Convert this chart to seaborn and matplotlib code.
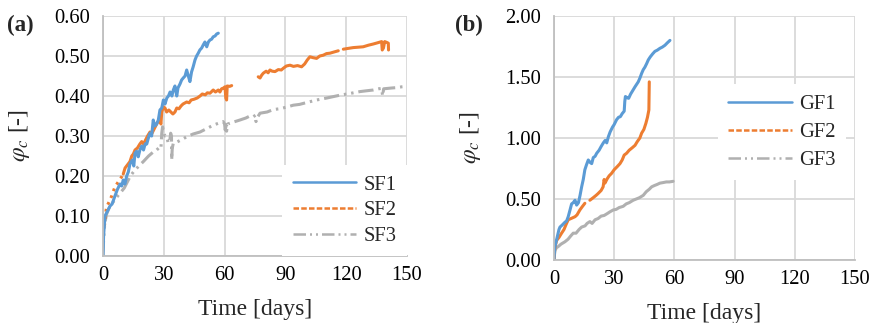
import numpy as np
import pandas as pd
import matplotlib
matplotlib.use("Agg")
import matplotlib.pyplot as plt
import seaborn as sns
from matplotlib.lines import Line2D

# ---- data (time in days, phi_c) ----
# NaN marks a gap in the record
sf1_t = [0, 0.3, 0.7, 1.0, 2.0, 3.5, 4.5, 5.9, 7.0, 8.4, 9.2, 10.0, 10.8, 11.7, 12.5, 13.3, 14.5, 15.2,
         15.8, 16.6, 17.4, 18.2, 19.1, 20.0, 20.8, 21.6, 22.4, 23.2, 24.0, 24.8, 25.6, 26.5, 27.3, 28.1,
         29.0, 29.8, 30.6, 31.5, 32.3, 33.1, 34.0, 34.7, 35.5, 36.4, 37.0, 38.0, 38.8, 39.6, 40.5, 41.3,
         42.1, 42.9, 43.7, 44.5, 45.4, 46.2, 47.0, 47.8, 48.7, 49.5, 50.3, 51.2, 52.0, 52.8, 53.6, 54.4,
         55.3, 56.1, 56.9]
sf1_v = [0, 0.05, 0.08, 0.10, 0.11, 0.125, 0.13, 0.15, 0.165, 0.18, 0.175, 0.19, 0.18, 0.20, 0.21, 0.23,
         0.24, 0.225, 0.257, 0.262, 0.248, 0.265, 0.275, 0.265, 0.28, 0.28, 0.295, 0.307, 0.30, 0.34, 0.325,
         0.33, 0.34, 0.365, 0.37, 0.39, 0.38, 0.395, 0.40, 0.41, 0.40, 0.415, 0.425, 0.40, 0.42, 0.43, 0.44,
         0.445, 0.45, 0.465, 0.45, 0.436, 0.46, 0.473, 0.49, 0.50, 0.507, 0.515, 0.52, 0.528, 0.535, 0.523,
         0.535, 0.54, 0.542, 0.548, 0.55, 0.555, 0.557]

sf2_t = [0, 0.1, 0.5, 1.0, 1.4, 1.8, 3.0, 4.3, 5.9, 7.5, 9.2, 10.0, 10.9, 12.1, 13.3, 14.2, 15.0, 15.8,
         17.0, 18.2, 19.1, 20.0, 21.0, 22.0, 23.2, 24.0, 25.0, 26.0, 27.0, 28.1, 28.6, 29.0, 29.8, 30.6,
         31.4, 32.5, 33.5, 34.5, 35.5, 36.4, 37.5, 38.5, 39.5, 41.3, 42.5, 43.5, 45.0, 46.5, 47.9, 49.0,
         50.5, 51.5, 52.8, 54.4, 55.5, 56.9, 57.7, 58.5, 59.5, 60.2, 60.6, 61.0, 61.3, 62.5, 63.5,
         np.nan,
         76.6, 77.5, 78.3, 79.1, 80.5, 81.5, 82.4, 83.5, 84.9, 86.5, 88.0, 88.9, 90.5, 92.3, 94.0, 96.0,
         98.0, 99.5, 100.8, 102.1, 103.5, 105.4, 107.0, 108.7, 110.3, 112.0, 114.0, 116.1,
         np.nan,
         118.6, 121.0, 123.5, 126.0, 128.4, 131.0, 133.4, 135.5, 137.5, 137.8, 138.4, 139.0, 140.0, 140.8,
         140.9]
sf2_v = [0.04, 0.07, 0.07, 0.085, 0.11, 0.123, 0.135, 0.15, 0.173, 0.185, 0.198, 0.205, 0.22, 0.228,
         0.236, 0.25, 0.255, 0.265, 0.27, 0.28, 0.286, 0.28, 0.29, 0.30, 0.31, 0.305, 0.315, 0.325, 0.335,
         0.336, 0.33, 0.36, 0.373, 0.37, 0.36, 0.365, 0.36, 0.355, 0.36, 0.37, 0.368, 0.375, 0.38, 0.385,
         0.383, 0.39, 0.392, 0.395, 0.40, 0.405, 0.403, 0.408, 0.407, 0.415, 0.41, 0.415, 0.41, 0.418,
         0.42, 0.423, 0.395, 0.39, 0.425, 0.424, 0.426,
         np.nan,
         0.448, 0.445, 0.452, 0.457, 0.462, 0.458, 0.465, 0.462, 0.461, 0.466, 0.465, 0.469, 0.475, 0.477,
         0.474, 0.476, 0.473, 0.48, 0.49, 0.498, 0.496, 0.494, 0.50, 0.502, 0.506, 0.507, 0.51, 0.513,
         np.nan,
         0.517, 0.519, 0.521, 0.522, 0.523, 0.527, 0.53, 0.533, 0.536, 0.515, 0.52, 0.536, 0.534, 0.532,
         0.515]
sf2_dotted_until = 10.0  # early part of SF2 shows up as sparse dots

sf3_t = [0, 0.3, 0.7, 1.0, 1.8, 3.0, 4.3, 6.0, 8.4, 10.5, 12.5, 13.5, 15.0, 17.5, 19.9, 22.5, 24.8, 26.5,
         28.1, 28.6, 29.0, 29.4, 29.9, 30.6, 31.4, 32.2, 33.0, 33.4, 33.8, 33.9, 34.2, 34.7, 36.5, 38.5,
         41.3, 44.5, 47.9, 51.0, 54.4, 57.0, 59.3, 60.0, 60.3, 60.8, 61.0, 61.5, 64.5, 67.6, 70.5, 72.5,
         74.1, 75.3, 75.5, 76.0, 77.5, 81.0, 84.0, 87.0, 90.5, 93.9, 97.0, 100.0, 105.4, 110.5, 116.9,
         121.5, 126.8, 130.0, 133.4, 136.0, 137.5, 138.0, 138.5, 140.5, 142.5, 145.0, 147.5, 150.0]
sf3_v = [0, 0.04, 0.07, 0.085, 0.105, 0.12, 0.13, 0.142, 0.157, 0.17, 0.19, 0.20, 0.21, 0.224, 0.236,
         0.25, 0.26, 0.265, 0.273, 0.27, 0.307, 0.323, 0.31, 0.30, 0.30, 0.282, 0.29, 0.307, 0.30, 0.24,
         0.27, 0.282, 0.285, 0.29, 0.298, 0.305, 0.31, 0.318, 0.327, 0.332, 0.336, 0.33, 0.315, 0.327,
         0.312, 0.33, 0.335, 0.34, 0.345, 0.35, 0.348, 0.352, 0.336, 0.345, 0.357, 0.36, 0.366, 0.368,
         0.372, 0.377, 0.379, 0.383, 0.39, 0.395, 0.402, 0.406, 0.411, 0.413, 0.415, 0.418, 0.419, 0.40,
         0.418, 0.419, 0.42, 0.421, 0.423, 0.424]

gf1_t = [0, 0.3, 0.5, 1.5, 2.5, 3.0, 4.0, 5.5, 6.3, 7.1, 8.0, 8.8, 9.6, 10.5, 11.3, 12.2, 13.0, 13.8,
         14.6, 15.4, 16.2, 17.1, 18.0, 18.8, 19.6, 20.5, 21.3, 22.5, 23.5, 24.6, 25.5, 26.3, 27.1, 28.0,
         29.2, 30.0, 31.2, 32.2, 33.1, 34.0, 35.0, 35.3, 35.6, 36.5, 37.2, 38.2, 39.3, 40.4, 41.2, 42.0,
         42.8, 43.7, 44.5, 45.3, 46.2, 47.0, 48.0, 49.2, 50.3, 51.5, 52.8, 54.0, 55.3, 56.5, 57.8]
gf1_v = [0, 0.08, 0.11, 0.18, 0.25, 0.27, 0.285, 0.31, 0.32, 0.355, 0.41, 0.46, 0.47, 0.49, 0.45, 0.47,
         0.53, 0.60, 0.66, 0.74, 0.78, 0.82, 0.80, 0.79, 0.84, 0.85, 0.875, 0.90, 0.93, 0.96, 0.98, 0.96,
         1.01, 1.05, 1.09, 1.11, 1.15, 1.17, 1.175, 1.20, 1.22, 1.30, 1.34, 1.33, 1.325, 1.36, 1.39, 1.42,
         1.44, 1.46, 1.49, 1.53, 1.56, 1.58, 1.61, 1.64, 1.665, 1.69, 1.71, 1.72, 1.735, 1.745, 1.76,
         1.78, 1.80]

gf2_t = [0, 0.3, 0.7, 1.3, 2.5, 3.8, 5.0, 6.0, 7.1, 8.5, 10.5, 11.5, 12.9, 14.0, 15.4,
         np.nan,
         17.9, 19.5, 21.0, 22.0, 23.5, 24.5, 25.0, 25.4, 26.5, 27.5, 28.7, 30.0, 31.5, 32.9, 34.0, 35.0,
         36.2, 37.5, 39.0, 40.4, 41.5, 42.8, 43.7, 44.8, 45.8, 46.6, 47.3, 47.5]
gf2_v = [0, 0.08, 0.12, 0.16, 0.185, 0.22, 0.25, 0.29, 0.33, 0.34, 0.355, 0.37, 0.41, 0.435, 0.465,
         np.nan,
         0.49, 0.51, 0.53, 0.545, 0.57, 0.60, 0.66, 0.63, 0.665, 0.69, 0.71, 0.74, 0.765, 0.79, 0.82,
         0.86, 0.875, 0.90, 0.92, 0.94, 0.97, 1.0, 1.04, 1.07, 1.12, 1.17, 1.23, 1.46]

gf3_t = [0, 0.3, 0.6, 1.2, 2.1, 3.5, 5.5, 7.0, 8.5, 9.6, 11.0, 12.5, 13.8, 15.5, 16.5, 17.9, 19.0, 20.5,
         22.0, 23.5, 25.0, 26.5, 27.9, 29.5, 31.0, 32.5, 34.5, 36.0, 37.5, 39.5, 41.0, 42.5, 44.5, 46.0,
         47.5, 48.7, 50.0, 51.5, 52.8, 54.5, 56.0, 57.5, 59.4]
gf3_v = [0, 0.05, 0.08, 0.10, 0.11, 0.13, 0.15, 0.17, 0.20, 0.22, 0.22, 0.25, 0.27, 0.28, 0.30, 0.315,
         0.30, 0.33, 0.34, 0.36, 0.365, 0.38, 0.395, 0.41, 0.415, 0.43, 0.44, 0.46, 0.47, 0.49, 0.50, 0.51,
         0.53, 0.56, 0.58, 0.60, 0.61, 0.62, 0.63, 0.635, 0.64, 0.64, 0.645]

BLUE, ORANGE, GRAY = "#5B9BD5", "#ED7D31", "#B0B0B0"
GRID = "#D9D9D9"
DASHDOT2 = (0, (5, 1.6, 0.8, 1.6, 0.8, 1.6))
LW = 2.2

sns.set_theme(style="whitegrid")
plt.rcParams["font.family"] = ["Liberation Serif", "DejaVu Serif"]
plt.rcParams["mathtext.fontset"] = "stix"


def draw(ax, t, v, **kw):
    # split on NaN gaps and draw each piece with seaborn
    df = pd.DataFrame({"t": t, "v": v})
    seg = df["t"].isna().cumsum()
    keep = df["t"].notna()
    for _, d in df[keep].groupby(seg[keep]):
        sns.lineplot(data=d, x="t", y="v", ax=ax, sort=False, estimator=None, **kw)


def style(ax, ymax, ystep):
    ax.set_xlim(0, 150)
    ax.set_ylim(0, ymax)
    ax.set_xticks(np.arange(0, 151, 30))
    yt = np.arange(0, ymax + 1e-9, ystep)
    ax.set_yticks(yt)
    ax.set_yticklabels([f"{y:.2f}" for y in yt])
    ax.grid(True, color=GRID, linewidth=1.3)
    ax.set_facecolor("white")
    for s in ["top", "right"]:
        ax.spines[s].set_visible(False)
    for s in ["left", "bottom"]:
        ax.spines[s].set_color("#BFBFBF")
        ax.spines[s].set_linewidth(1.3)
    ax.tick_params(length=0, labelsize=14.8, colors="black")
    ax.tick_params(axis="y", pad=9)
    ax.tick_params(axis="x", pad=7)
    ax.set_xlabel("Time [days]", fontsize=17, labelpad=10)
    ax.set_ylabel(r"$\varphi_c$ [-]", fontsize=17, labelpad=16)


fig = plt.figure(figsize=(8.75, 3.23), dpi=100)
ax1 = fig.add_axes([0.1177, 0.2074, 0.3474, 0.7431])
ax2 = fig.add_axes([0.6331, 0.195, 0.3440, 0.7555])

# panel (a)
draw(ax1, sf3_t, sf3_v, color=GRAY, linewidth=LW, linestyle=DASHDOT2)
t2 = np.array(sf2_t)
v2 = np.array(sf2_v)
dotted = t2 <= sf2_dotted_until
draw(ax1, t2[dotted], v2[dotted], color=ORANGE, linewidth=LW, linestyle=(0, (0.9, 1.5)))
solid = ~(t2 < sf2_dotted_until)  # keeps the NaN gap markers
draw(ax1, t2[solid], v2[solid], color=ORANGE, linewidth=LW)
draw(ax1, sf1_t, sf1_v, color=BLUE, linewidth=LW)

# panel (b)
draw(ax2, gf3_t, gf3_v, color=GRAY, linewidth=LW)
draw(ax2, gf2_t, gf2_v, color=ORANGE, linewidth=LW)
draw(ax2, gf1_t, gf1_v, color=BLUE, linewidth=LW)

style(ax1, 0.6, 0.1)
style(ax2, 2.0, 0.5)


def legend(ax, names, loc, anchor, spacing):
    handles = [Line2D([], [], color=BLUE, lw=1.8),
               Line2D([], [], color=ORANGE, lw=1.8, linestyle=(0, (2.2, 0.9))),
               Line2D([], [], color=GRAY, lw=1.8, linestyle=DASHDOT2)]
    leg = ax.legend(handles, names, loc=loc, bbox_to_anchor=anchor, frameon=True, fancybox=False,
                    fontsize=14.8, handlelength=3.1, handletextpad=0.35, labelspacing=spacing,
                    borderpad=0.5, borderaxespad=0)
    leg.get_frame().set_facecolor("white")
    leg.get_frame().set_edgecolor("none")
    leg.get_frame().set_alpha(1)


legend(ax1, ["SF1", "SF2", "SF3"], "lower right", (1.0, 0.0), 0.3)
legend(ax2, ["GF1", "GF2", "GF3"], "upper right", (0.97, 0.72), 0.42)

fig.text(0.008, 0.955, "(a)", fontsize=16.5, fontweight="bold", va="top")
fig.text(0.52, 0.955, "(b)", fontsize=16.5, fontweight="bold", va="top")

fig.savefig("out.png", dpi=100)
